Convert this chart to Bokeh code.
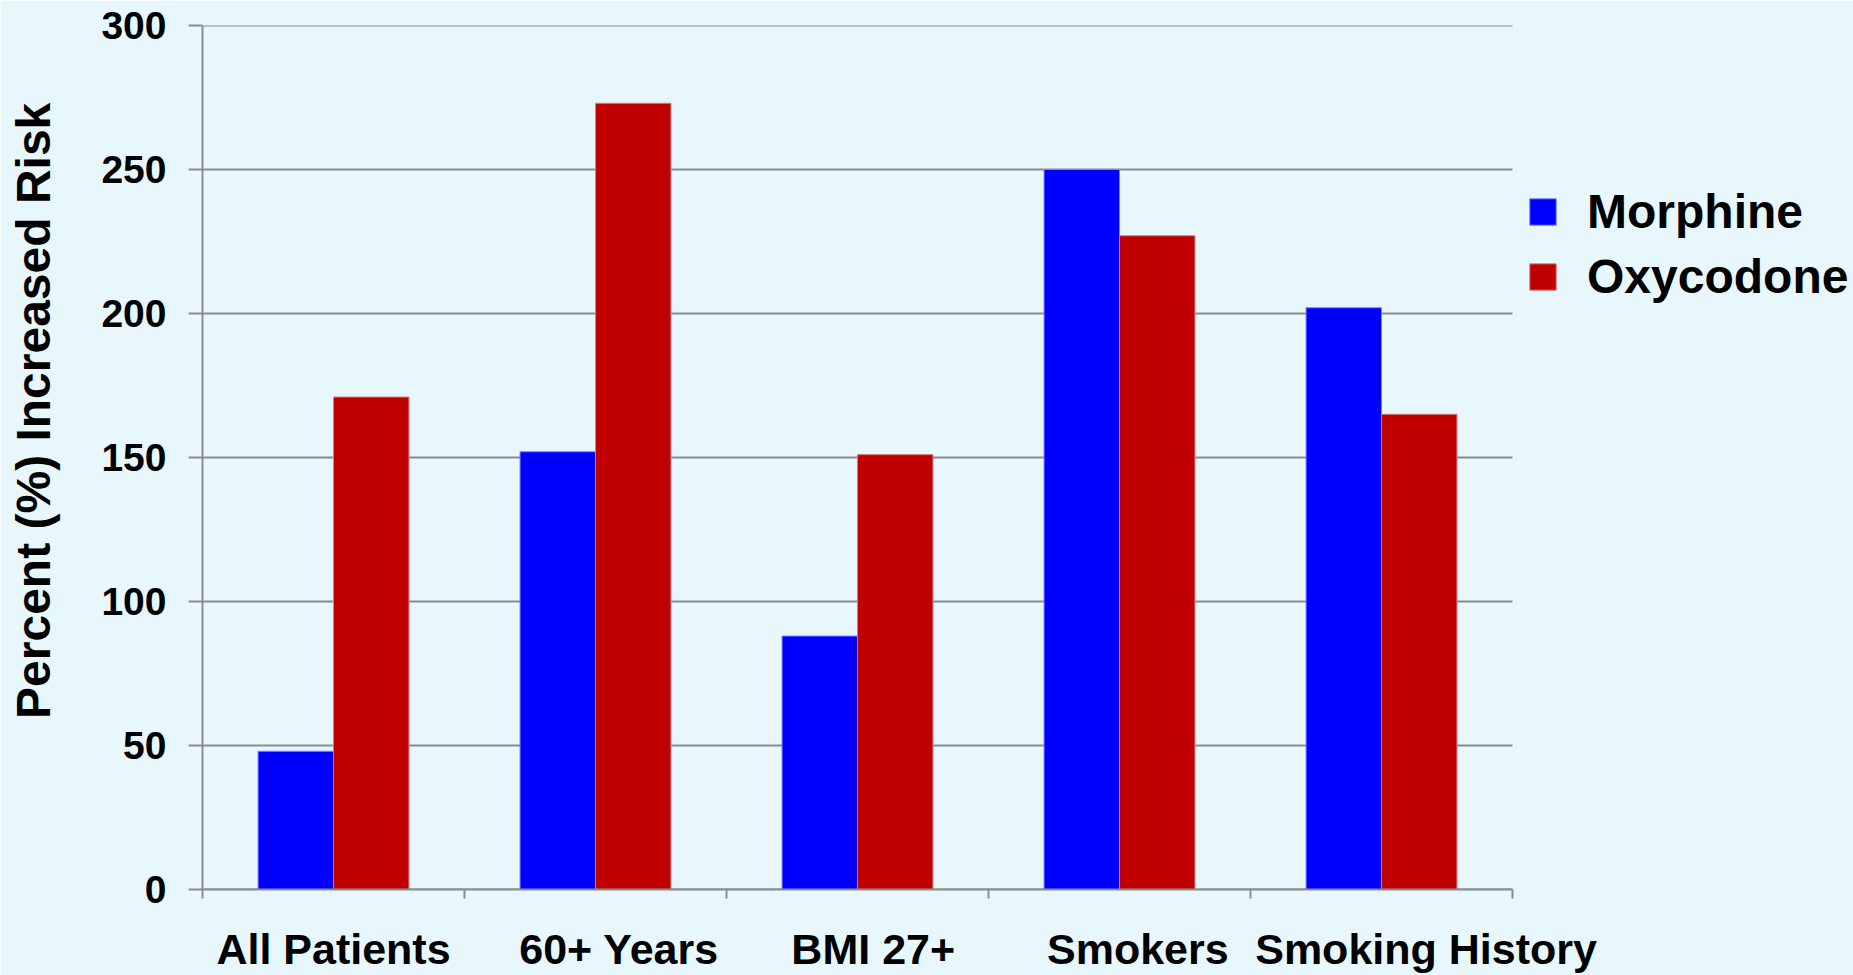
from bokeh.plotting import figure
from bokeh.models import (ColumnDataSource, Range1d, LinearAxis, FixedTicker, Legend,
                          LegendItem)
from bokeh.embed import file_html
from bokeh.resources import INLINE

categories = ["All Patients", "60+ Years", "BMI 27+", "Smokers", "Smoking History"]
morphine = [48, 152, 88, 250, 202]
oxycodone = [171, 273, 151, 227, 165]
y_ticks = [0, 50, 100, 150, 200, 250, 300]
y_title = "Percent (%) Increased Risk"

FONT = "Liberation Sans"
GRID = "#8c8c8c"
BG = "#e8f7fc"
BAR_W = 0.288
OFFSET = 0.144
# horizontal nudges of the category captions (in category widths), as placed in the reference
LABEL_SHIFT = [0.0, 0.09, 0.06, 0.07, 0.17]

W, H = 1853, 975
LEFT, TOP, BOTTOM = 202, 25, 86
PLOT_W = 1310            # width of the gridded area in px
FRAME_W = W - LEFT       # frame runs to the right edge so the legend can live in it

n = len(categories)
idx = list(range(n))
centers = [i + 0.5 for i in idx]
label_pos = [c + s for c, s in zip(centers, LABEL_SHIFT)]
src = ColumnDataSource(dict(
    cat=categories, morphine=morphine, oxycodone=oxycodone,
    xm=[c - OFFSET for c in centers], xo=[c + OFFSET for c in centers]))
grid_src = ColumnDataSource(dict(y=y_ticks, x0=[0] * len(y_ticks), x1=[n] * len(y_ticks)))

p = figure(width=W, height=H, x_range=Range1d(0, n * FRAME_W / PLOT_W),
           y_range=Range1d(0, 300), output_backend="svg", toolbar_location=None,
           x_axis_location=None, min_border_left=LEFT, min_border_right=0,
           min_border_top=TOP, min_border_bottom=BOTTOM)

p.background_fill_color = BG
p.border_fill_color = BG
p.outline_line_color = None
p.xgrid.grid_line_color = None
p.ygrid.grid_line_color = None

# horizontal gridlines limited to the category span
p.segment(x0="x0", x1="x1", y0="y", y1="y", source=grid_src,
          line_color=GRID, line_width=2, level="underlay")

# y axis
p.yaxis.ticker = FixedTicker(ticks=y_ticks)
p.yaxis.axis_line_color = GRID
p.yaxis.axis_line_width = 2
p.yaxis.major_tick_line_color = GRID
p.yaxis.major_tick_line_width = 2
p.yaxis.major_tick_in = 0
p.yaxis.major_tick_out = 14
p.yaxis.minor_tick_line_color = None
p.yaxis.major_label_standoff = 22
p.yaxis.major_label_text_font = FONT
p.yaxis.major_label_text_font_style = "bold"
p.yaxis.major_label_text_font_size = "39px"
p.yaxis.major_label_text_color = "black"
# leading non-breaking spaces lift the centred title as in the reference
p.yaxis.axis_label = "\u00a0" * 7 + y_title
p.yaxis.axis_label_standoff = 38
p.yaxis.axis_label_text_font = FONT
p.yaxis.axis_label_text_font_style = "bold"
p.yaxis.axis_label_text_font_size = "48px"
p.yaxis.axis_label_text_color = "black"

# x axis: boundary ticks + category labels
tick_axis = LinearAxis(ticker=FixedTicker(ticks=list(range(n + 1))), bounds=(0, n),
                       major_label_text_font_size="0px", major_label_standoff=0,
                       major_tick_in=0, major_tick_out=9, minor_tick_line_color=None,
                       axis_line_color=GRID, axis_line_width=2,
                       major_tick_line_color=GRID, major_tick_line_width=2)
p.add_layout(tick_axis, "below")
label_axis = LinearAxis(ticker=FixedTicker(ticks=label_pos),
                        major_label_overrides={c: name for c, name in zip(label_pos, categories)},
                        axis_line_color=None, major_tick_line_color=None,
                        major_tick_in=0, major_tick_out=0,
                        minor_tick_line_color=None, major_label_standoff=26,
                        major_label_text_font=FONT, major_label_text_font_style="bold",
                        major_label_text_font_size="43px", major_label_text_color="black")
p.add_layout(label_axis, "below")

r1 = p.vbar(x="xm", top="morphine", width=BAR_W, bottom=0, source=src,
            fill_color="#0000ff", line_color="#7f7fff", line_width=1)
r2 = p.vbar(x="xo", top="oxycodone", width=BAR_W, bottom=0, source=src,
            fill_color="#c00000", line_color="#d08080", line_width=1)

legend = Legend(items=[LegendItem(label="Morphine", renderers=[r1]),
                       LegendItem(label="Oxycodone", renderers=[r2])],
                location=(PLOT_W + 14, 585), padding=0, margin=0, spacing=10,
                glyph_width=33, glyph_height=33, label_standoff=28,
                label_text_font=FONT, label_text_font_style="bold",
                label_text_font_size="48px", label_text_color="black",
                border_line_color=None, background_fill_alpha=0)
p.add_layout(legend, "center")

open("out.html", "w").write(file_html(p, INLINE))
